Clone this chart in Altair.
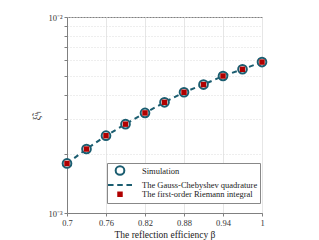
import altair as alt
import pandas as pd

beta = [0.70, 0.73, 0.76, 0.79, 0.82, 0.85, 0.88, 0.91, 0.94, 0.97, 1.00]
simulation = [1.79e-3, 2.12e-3, 2.48e-3, 2.84e-3, 3.24e-3, 3.67e-3, 4.13e-3, 4.52e-3, 5.00e-3, 5.41e-3, 5.89e-3]
gauss = [1.79e-3, 2.12e-3, 2.48e-3, 2.84e-3, 3.24e-3, 3.67e-3, 4.13e-3, 4.52e-3, 5.00e-3, 5.41e-3, 5.89e-3]
riemann = [1.79e-3, 2.12e-3, 2.48e-3, 2.84e-3, 3.24e-3, 3.67e-3, 4.13e-3, 4.52e-3, 5.00e-3, 5.41e-3, 5.89e-3]

series_names = ["Simulation", "The Gauss-Chebyshev quadrature", "The first-order Riemann integral"]
x_ticks = [0.7, 0.76, 0.82, 0.88, 0.94, 1.0]
y_ticks = [0.001, 0.002, 0.003, 0.004, 0.005, 0.006, 0.007, 0.008, 0.009, 0.01]

teal = "#1b5d70"
red = "#b00000"
font = "Liberation Serif"

line_df = pd.DataFrame({"beta": beta, "value": gauss})
pts_df = pd.concat([
    pd.DataFrame({"beta": beta, "value": simulation, "series": series_names[0]}),
    pd.DataFrame({"beta": beta, "value": riemann, "series": series_names[2]}),
])

xscale = alt.Scale(domain=[0.7, 1.0], nice=False, zero=False)
yscale = alt.Scale(type="log", domain=[0.001, 0.01], nice=False)

xaxis = alt.Axis(values=x_ticks, format="~g", title="The reflection efficiency β",
                 grid=True, gridColor="#e6e6e6", gridDash=[], labelOverlap=False,
                 labelFlush=False, labelBound=False)
yaxis = alt.Axis(values=y_ticks, title="ξ̃ᵘₗ", labelOverlap=False,
                 labelExpr="datum.value == 0.001 ? '10⁻³' : (datum.value == 0.01 ? '10⁻²' : '')",
                 grid=True, gridColor="#dddddd", gridDash=[1, 2])

line = alt.Chart(line_df).mark_line(strokeDash=[5, 4], strokeWidth=2, color=teal).encode(
    x=alt.X("beta:Q", scale=xscale, axis=xaxis),
    y=alt.Y("value:Q", scale=yscale, axis=yaxis),
)

legend = alt.Legend(title=None, orient="none", legendX=40, legendY=146,
                    strokeColor="#888888", fillColor="white", padding=2,
                    labelFont=font, labelFontSize=8.5, labelColor="#222222",
                    symbolStrokeWidth=2, rowPadding=-4, labelOffset=16,
                    symbolOffset=5)

dash_path = "M-2.6,0L-1.4,0M-0.6,0L0.6,0M1.4,0L2.6,0"

points = alt.Chart(pts_df).mark_point(strokeWidth=2, opacity=1).encode(
    x=alt.X("beta:Q", scale=xscale, axis=xaxis),
    y=alt.Y("value:Q", scale=yscale, axis=yaxis),
    shape=alt.Shape("series:N", scale=alt.Scale(domain=series_names, range=["circle", dash_path, "square"]), legend=legend),
    stroke=alt.Stroke("series:N", scale=alt.Scale(domain=series_names, range=[teal, teal, "transparent"]), legend=legend),
    fill=alt.Fill("series:N", scale=alt.Scale(domain=series_names, range=["white", "transparent", red]), legend=legend),
    size=alt.Size("series:N", scale=alt.Scale(type="ordinal", domain=series_names, range=[75, 85, 30]), legend=legend),
    order=alt.Order("series:N"),
)

chart = alt.layer(line, points).properties(
    width=195, height=196,
    autosize=alt.AutoSizeParams(type="none"),
    padding={"left": 59, "top": 9, "right": 40, "bottom": 30},
).configure_view(stroke="#808080", strokeWidth=1).configure_axis(
    labelFont=font, titleFont=font, labelFontSize=8.5, titleFontSize=9.5,
    titleFontWeight="normal", labelColor="#333333", titleColor="#222222",
    domainColor="#808080", tickColor="#808080", tickSize=3, ticks=True,
    labelPadding=2,
).configure_axisX(titlePadding=3).configure_axisY(titlePadding=6, tickSize=3)

chart.save("out.html", embed_options={"renderer": "svg", "actions": False})
